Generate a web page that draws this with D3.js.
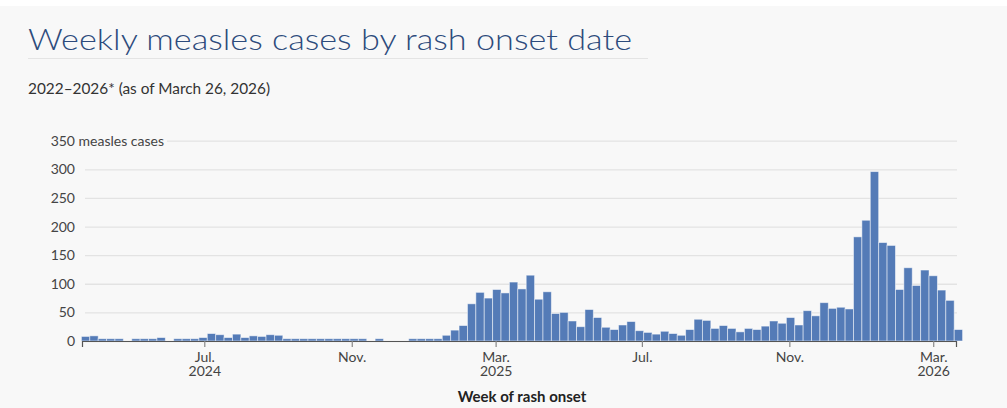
<!DOCTYPE html>
<html>
<head>
<meta charset="utf-8">
<script src="https://cdn.jsdelivr.net/npm/d3@7"></script>
<style>
  html, body { margin: 0; padding: 0; background: #ffffff; }
  svg { display: block; }
  text { font-family: Lato, "Noto Sans", sans-serif; }
</style>
</head>
<body>
<svg id="chart" width="1007" height="408"></svg>
<script>
// weekly counts, one per week starting on Sunday 2024-03-24
const firstWeekStart = "2024-03-24";
const weeklyCases = [
  8, 9, 4, 4, 4, 0, 4, 4, 4, 6,
  0, 4, 4, 4, 6, 13, 11, 6, 12, 6,
  9, 8, 11, 10, 4, 4, 4, 4, 4, 4,
  4, 4, 4, 4, 0, 4, 0, 0, 0, 4,
  4, 4, 4, 10, 19, 27, 65, 85, 75, 90,
  84, 103, 91, 115, 73, 86, 48, 50, 35, 25,
  55, 41, 24, 20, 28, 34, 18, 15, 12, 17,
  13, 10, 20, 38, 36, 22, 27, 22, 16, 22,
  20, 26, 35, 31, 41, 28, 53, 44, 67, 57,
  59, 56, 182, 211, 296, 172, 167, 90, 128, 97,
  124, 114, 89, 71, 20
];

const tickDates = ["2024-07-01", "2024-11-01", "2025-03-01", "2025-07-01", "2025-11-01", "2026-03-01"];
const tickMonths = ["Jul.", "Nov.", "Mar.", "Jul.", "Nov.", "Mar."];
const tickYears = ["2024", "", "2025", "", "", "2026"];
const yTicks = [0, 50, 100, 150, 200, 250, 300, 350];

const titleText = "Weekly measles cases by rash onset date";
const subtitleText = "2022\u20132026* (as of March 26, 2026)";
const yUnit = "measles cases";
const xTitle = "Week of rash onset";

const parse = d3.utcParse("%Y-%m-%d");
const start = parse(firstWeekStart);
const data = weeklyCases.map((v, i) => ({ week: d3.utcWeek.offset(start, i), value: v }));

const svg = d3.select("#chart");

// page background
svg.append("rect").attr("x", 0).attr("y", 6).attr("width", 1007).attr("height", 402).attr("fill", "#f8f8f8");

// title block
svg.append("text")
  .attr("x", 28).attr("y", 50)
  .attr("font-size", 30).attr("font-weight", 300)
  .attr("fill", "#2d4b7c")
  .attr("textLength", 604).attr("lengthAdjust", "spacingAndGlyphs")
  .text(titleText);

svg.append("line")
  .attr("x1", 28).attr("x2", 648).attr("y1", 58.5).attr("y2", 58.5)
  .attr("stroke", "#e4e4e4").attr("stroke-width", 1);

svg.append("text")
  .attr("x", 28).attr("y", 94)
  .attr("font-size", 15).attr("fill", "#333")
  .attr("textLength", 242).attr("lengthAdjust", "spacingAndGlyphs")
  .text(subtitleText);

// scales
const plotLeft = 82, plotRight = 956, plotTop = 140.7, plotBottom = 341;
const x = d3.scaleUtc()
  .domain([parse("2024-03-21"), parse("2026-03-20")])
  .range([plotLeft, plotRight]);
const y = d3.scaleLinear().domain([0, 350]).range([plotBottom, plotTop]);

// y grid + labels
const gridLeft = 85;
const yAxis = svg.append("g")
  .attr("transform", `translate(${gridLeft},0)`)
  .call(d3.axisLeft(y).tickValues(yTicks).tickSize(-(plotRight - gridLeft + 1)).tickPadding(10));

yAxis.select(".domain").remove();
yAxis.selectAll(".tick line").attr("stroke", "#e3e3e3").attr("stroke-width", 1.3);
yAxis.selectAll(".tick text")
  .attr("font-size", 14).attr("fill", "#444")
  .attr("font-family", "Lato, 'Noto Sans', sans-serif");

// top tick gets the unit appended, gridline starts after it
yAxis.selectAll(".tick").filter(d => d === 350).each(function () {
  const t = d3.select(this).select("text");
  const numW = t.node().getComputedTextLength();
  const x0 = -10 - numW;
  t.attr("text-anchor", "start").attr("x", x0).text(`350 ${yUnit}`);
  const full = t.node().getComputedTextLength();
  d3.select(this).select("line").attr("x1", x0 + full + 3).attr("x2", plotRight - gridLeft + 1);
});

// bars
const barW = x(d3.utcDay.offset(start, 7)) - x(start);
svg.append("g")
  .selectAll("rect")
  .data(data.filter(d => d.value > 0))
  .join("rect")
  .attr("x", d => x(d.week) - barW / 2)
  .attr("width", barW)
  .attr("y", d => y(d.value))
  .attr("height", d => y(0) - y(d.value))
  .attr("fill", "#547bb7")
  .attr("stroke", "#ffffff")
  .attr("stroke-opacity", 0.55)
  .attr("stroke-width", 0.9);

// x axis
const xAxis = svg.append("g")
  .attr("transform", `translate(0,${plotBottom})`)
  .call(d3.axisBottom(x)
    .tickValues(tickDates.map(parse))
    .tickSizeOuter(0)
    .tickSize(6)
    .tickPadding(8)
    .tickFormat((d, i) => tickMonths[i]));

xAxis.select(".domain").attr("stroke", "#555").attr("stroke-width", 1.2);
xAxis.selectAll(".tick line").attr("stroke", "#888").attr("stroke-width", 1.2);
xAxis.selectAll(".tick text")
  .attr("font-size", 14).attr("fill", "#444")
  .attr("font-family", "Lato, 'Noto Sans', sans-serif")
  .attr("dy", null).attr("y", 21);

// year line under the month label
xAxis.selectAll(".tick").each(function (d, i) {
  if (!tickYears[i]) return;
  d3.select(this).append("text")
    .attr("y", 35)
    .attr("text-anchor", "middle")
    .attr("font-size", 14).attr("fill", "#444")
    .attr("font-family", "Lato, 'Noto Sans', sans-serif")
    .text(tickYears[i]);
});

svg.append("text")
  .attr("x", (plotLeft + plotRight) / 2 + 3).attr("y", 402)
  .attr("text-anchor", "middle")
  .attr("font-size", 15).attr("font-weight", 700).attr("fill", "#222")
  .text(xTitle);
</script>
</body>
</html>
